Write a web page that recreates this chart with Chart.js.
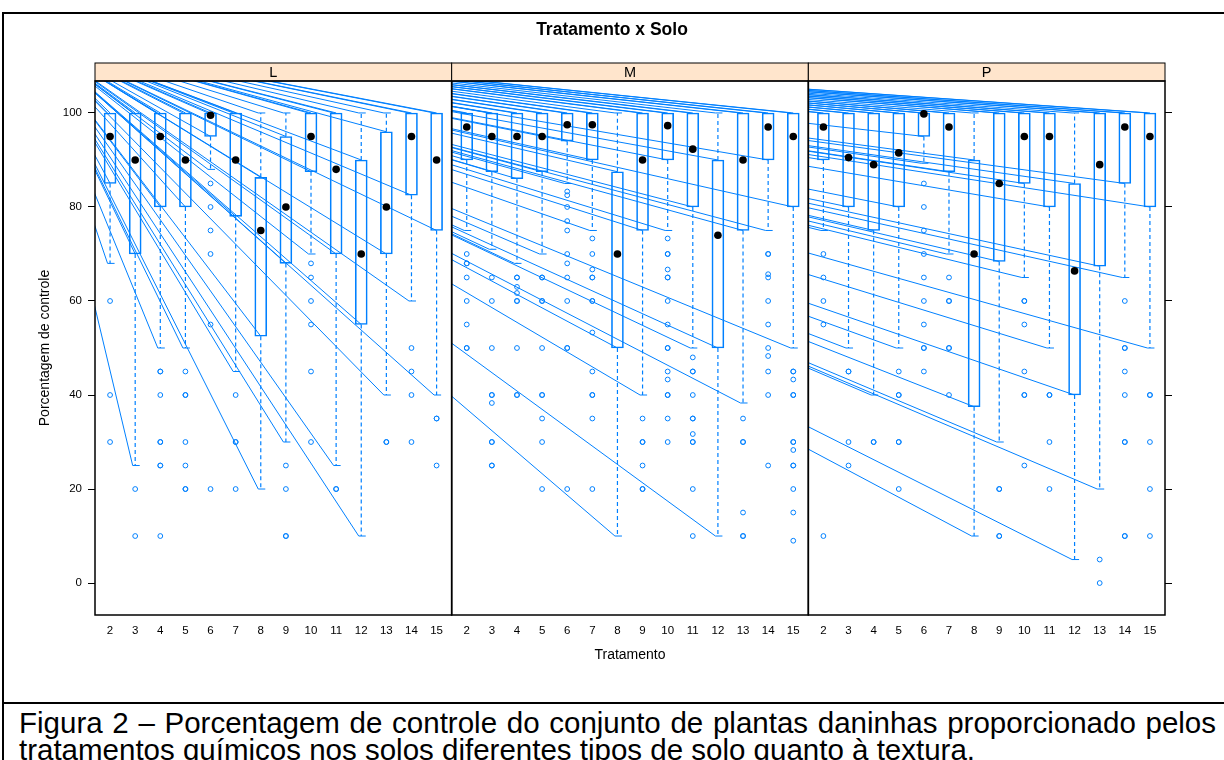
<!DOCTYPE html>
<html>
<head>
<meta charset="utf-8">
<script src="https://cdn.jsdelivr.net/npm/chart.js@4.4.1/dist/chart.umd.min.js"></script>
<style>
body { margin: 0; width: 1224px; height: 760px; overflow: hidden; background: #fff; position: relative;
       font-family: "Liberation Sans", Arial, sans-serif; color: #000; }
#frame { position: absolute; left: 2px; top: 12px; width: 1240px; height: 688px;
         border-left: 2px solid #000; border-top: 2px solid #000; border-bottom: 2px solid #000; }
#capbox { position: absolute; left: 2px; top: 704px; width: 1240px; height: 60px; border-left: 2px solid #000; }
#title { position: absolute; left: 0; top: 19px; width: 1224px; text-align: center;
         font-weight: bold; font-size: 17.5px; line-height: 20px; }
#caption { position: absolute; left: 19px; top: 710px; width: 1197px; font-size: 29.5px;
           line-height: 26.5px; text-align: justify; }
canvas { position: absolute; left: 0; top: 0; }
</style>
</head>
<body>
<div id="frame"></div>
<div id="capbox"></div>
<canvas id="bw" width="1224" height="700"></canvas>
<div id="title">Tratamento x Solo</div>
<div id="caption">Figura 2 – Porcentagem de controle do conjunto de plantas daninhas proporcionado pelos tratamentos químicos nos solos diferentes tipos de solo quanto à textura.</div>
<script>
const soils = ['L', 'M', 'P'];
const treatments = [2, 3, 4, 5, 6, 7, 8, 9, 10, 11, 12, 13, 14, 15];
const yTicks = [0, 20, 40, 60, 80, 100];

// solo L
const q1L  = [85, 70, 80, 80, 95, 78, 52.5, 68, 87.5, 70, 55, 70, 82.5, 75];
const q3L  = [100, 100, 100, 100, 100, 100, 86.3, 95, 100, 100, 90, 96, 100, 100];
const medL = [95, 90, 95, 90, 99.5, 90, 75, 80, 95, 88, 70, 80, 95, 90];
const loL  = [68, 25, 50, 50, 88, 45, 20, 30, 70, 25, 10, 40, 60, 40];
const hiL  = [100, 100, 100, 100, 100, 100, 100, 100, 100, 100, 100, 100, 100, 100];
const outL = [
    [60, 40, 30], [20, 10], [45, 45, 40, 30, 30, 25, 25, 10], [45, 40, 40, 30, 25, 20, 20],
    [85, 80, 75, 70, 55, 20], [40, 30, 30, 20], [], [25, 20, 10, 10],
    [68, 65, 60, 55, 45, 30], [20, 20], [], [30, 30], [50, 45, 40, 30], [35, 35, 25]
];

// solo M
const q1M  = [90, 87.5, 86, 87.5, 94, 90, 50, 75, 90, 80, 50, 75, 90, 80];
const q3M  = [100, 100, 100, 100, 100, 100, 87.5, 100, 100, 100, 90, 100, 100, 100];
const medM = [97, 95, 95, 95, 97.5, 97.5, 70, 90, 97.3, 92.3, 74, 90, 97, 95];
const loM  = [75, 71, 68, 70, 85, 75, 10, 40, 75, 50, 10, 38.3, 75, 50];
const hiM  = [100, 100, 100, 100, 100, 100, 100, 100, 100, 100, 100, 100, 100, 100];
const outM = [
    [70, 68, 68, 65, 60, 55, 50, 50],
    [65, 60, 50, 40, 40, 38.3, 30, 30, 25, 25],
    [65, 65, 63, 61.7, 60, 60, 50, 40, 40],
    [65, 65, 60, 60, 50, 40, 40, 35, 30, 20],
    [83.3, 82.5, 80, 77, 75, 70, 68, 65, 60, 50, 50, 20],
    [73.3, 70, 66.7, 65, 65, 60, 60, 53.3, 45, 40, 40, 35, 20],
    [],
    [35, 30, 30, 25, 20, 20],
    [73.3, 70, 70, 66.7, 65, 65, 60, 55, 50, 50, 45, 43.3, 40, 40, 35, 30],
    [48, 45, 45, 40, 35, 35, 31.7, 30, 30, 20, 10],
    [],
    [35, 30, 30, 15, 10, 10],
    [70, 70, 65.7, 65, 60, 55, 50, 48.3, 45, 40, 25],
    [45, 45, 43.3, 40, 40, 30, 30, 28.3, 25, 25, 20, 15, 9]
];

// solo P
const q1P  = [90, 80, 75, 80, 95, 87.5, 37.5, 68.4, 85, 80, 40, 67.4, 85, 80];
const q3P  = [100, 100, 100, 100, 100, 100, 90, 100, 100, 100, 85, 100, 100, 100];
const medP = [97, 90.5, 89, 91.5, 99.8, 97, 70, 85, 95, 95, 66.4, 89, 97, 95];
const loP  = [75, 50, 40, 50, 89.3, 70, 10, 30, 65, 50, 5, 20, 65, 50];
const hiP  = [100, 100, 100, 100, 100, 100, 100, 100, 100, 100, 100, 100, 100, 100];
const outP = [
    [70, 65, 60, 55, 10], [45, 45, 30, 25], [30, 30], [45, 40, 40, 30, 30, 20],
    [85, 80, 75, 70, 65, 60, 55, 50, 50, 45], [65, 60, 60, 50, 50, 40], [], [20, 20, 10, 10],
    [60, 60, 55, 45, 40, 40, 25], [40, 40, 30, 20], [], [5, 0],
    [60, 50, 50, 45, 40, 30, 30, 10, 10], [40, 40, 30, 20, 10]
];

const BLUE = '#0080ff';
const X_MIN = 1.4;
const SHIFT = 14.2;   // width of one panel in x units
const panels = [
    {q1: q1L, q3: q3L, med: medL, lo: loL, hi: hiL, out: outL},
    {q1: q1M, q3: q3M, med: medM, lo: loM, hi: hiM, out: outM},
    {q1: q1P, q3: q3P, med: medP, lo: loP, hi: hiP, out: outP}
];

const boxData = [], medData = [], outData = [], whiskData = [], capData = [], tickVals = [];
panels.forEach((p, pi) => {
    treatments.forEach((t, i) => {
        const x = t + pi * SHIFT;
        tickVals.push(x);
        boxData.push({x: x, y: [p.q1[i], p.q3[i]]});
        medData.push({x: x, y: p.med[i]});
        p.out[i].forEach(v => outData.push({x: x, y: v}));
        if (p.lo[i] < p.q1[i]) whiskData.push({x: x, y: p.q1[i]}, {x: x, y: p.lo[i]}, {x: x, y: null});
        if (p.hi[i] > p.q3[i]) whiskData.push({x: x, y: p.q3[i]}, {x: x, y: p.hi[i]}, {x: x, y: null});
        capData.push({x: x - 0.1, y: p.lo[i]}, {x: x + 0.18, y: p.lo[i]}, {x: x, y: null});
        if (p.hi[i] > p.q3[i]) capData.push({x: x - 0.1, y: p.hi[i]}, {x: x + 0.18, y: p.hi[i]}, {x: x, y: null});
    });
});

// stray lines of the original export: from the figure corner to each whisker piece, clipped per panel
const strayLines = {
    id: 'strayLines',
    beforeDatasetsDraw(chart) {
        const {ctx, chartArea} = chart;
        const xs = chart.scales.x, ys = chart.scales.y;
        const ox = 30, oy = 35;
        panels.forEach((p, pi) => {
            const x0 = xs.getPixelForValue(X_MIN + pi * SHIFT);
            const x1 = xs.getPixelForValue(X_MIN + (pi + 1) * SHIFT);
            ctx.save();
            ctx.beginPath();
            ctx.rect(x0, chartArea.top, x1 - x0, chartArea.bottom - chartArea.top);
            ctx.clip();
            ctx.strokeStyle = BLUE;
            ctx.lineWidth = 1;
            ctx.beginPath();
            treatments.forEach((t, i) => {
                const x = t + pi * SHIFT;
                const targets = [[x - 0.1, p.lo[i]], [x, p.q1[i]], [x, p.q3[i]], [x - 0.1, p.hi[i]]];
                targets.forEach(([tx, ty]) => {
                    ctx.moveTo(ox, oy);
                    ctx.lineTo(xs.getPixelForValue(tx), ys.getPixelForValue(ty));
                });
            });
            ctx.stroke();
            ctx.restore();
        });
    }
};

const panelFrames = {
    id: 'panelFrames',
    afterDatasetsDraw(chart) {
        const {ctx, chartArea} = chart;
        const xs = chart.scales.x;
        const stripH = 18;
        soils.forEach((s, pi) => {
            const x0 = xs.getPixelForValue(X_MIN + pi * SHIFT);
            const x1 = xs.getPixelForValue(X_MIN + (pi + 1) * SHIFT);
            ctx.save();
            ctx.fillStyle = '#ffe5cc';
            ctx.fillRect(x0, chartArea.top - stripH, x1 - x0, stripH);
            ctx.strokeStyle = '#000';
            ctx.lineWidth = 1;
            ctx.strokeRect(x0, chartArea.top - stripH, x1 - x0, stripH);
            ctx.lineWidth = 1.5;
            ctx.strokeRect(x0, chartArea.top, x1 - x0, chartArea.bottom - chartArea.top);
            ctx.fillStyle = '#000';
            ctx.font = '14.5px "Liberation Sans", Arial, sans-serif';
            ctx.textAlign = 'center';
            ctx.textBaseline = 'middle';
            ctx.fillText(s, (x0 + x1) / 2, chartArea.top - stripH / 2 + 1);
            ctx.restore();
        });
    }
};

Chart.defaults.font.family = '"Liberation Sans", Arial, sans-serif';
Chart.defaults.color = '#000';

const yAxis = (pos) => ({
    position: pos,
    min: -6.8,
    max: 106.8,
    afterBuildTicks: s => { s.ticks = yTicks.map(v => ({value: v})); },
    afterFit: s => { s.width = pos === 'left' ? 65 : 7; },
    ticks: {display: pos === 'left', font: {size: 11.5}, padding: 6},
    grid: {drawOnChartArea: false, tickLength: 7, color: '#000', tickColor: '#000'},
    border: {display: false},
    title: pos === 'left'
        ? {display: true, text: 'Porcentagem de controle', font: {size: 14}, padding: {top: 6.6, bottom: 0}}
        : {display: false}
});

new Chart(document.getElementById('bw'), {
    type: 'scatter',
    data: {
        datasets: [
            {type: 'bar', data: boxData, barThickness: 12, borderWidth: 1, borderSkipped: false,
             borderColor: BLUE, backgroundColor: 'rgba(0,0,0,0)', order: 3},
            {type: 'line', data: whiskData, borderColor: BLUE, borderWidth: 1.2, borderDash: [4, 3],
             pointRadius: 0, spanGaps: false, fill: false, order: 4},
            {type: 'line', data: capData, borderColor: BLUE, borderWidth: 1,
             pointRadius: 0, spanGaps: false, fill: false, order: 4},
            {type: 'scatter', data: outData, pointRadius: 2.4, pointBorderWidth: 1,
             pointBorderColor: BLUE, pointBackgroundColor: 'rgba(0,0,0,0)', order: 2},
            {type: 'scatter', data: medData, pointRadius: 3.8, pointBorderWidth: 0,
             pointBackgroundColor: '#000', pointBorderColor: '#000', order: 1}
        ]
    },
    options: {
        responsive: false,
        animation: false,
        devicePixelRatio: 1,
        layout: {padding: {left: 30, right: 52, top: 81, bottom: 30}},
        plugins: {legend: {display: false}, tooltip: {enabled: false}},
        scales: {
            x: {
                type: 'linear',
                min: X_MIN,
                max: X_MIN + 3 * SHIFT,
                offset: false,
                afterBuildTicks: s => { s.ticks = tickVals.map(v => ({value: v})); },
                afterFit: s => { s.height = 55; },
                ticks: {
                    autoSkip: false, maxRotation: 0, font: {size: 11.5}, padding: 1,
                    callback: (v, i) => treatments[i % treatments.length]
                },
                grid: {display: false, offset: false},
                border: {display: false},
                title: {display: true, text: 'Tratamento', font: {size: 14}, padding: {top: 0, bottom: 6.6}}
            },
            y: yAxis('left'),
            y2: yAxis('right')
        }
    },
    plugins: [strayLines, panelFrames]
});
</script>
</body>
</html>
